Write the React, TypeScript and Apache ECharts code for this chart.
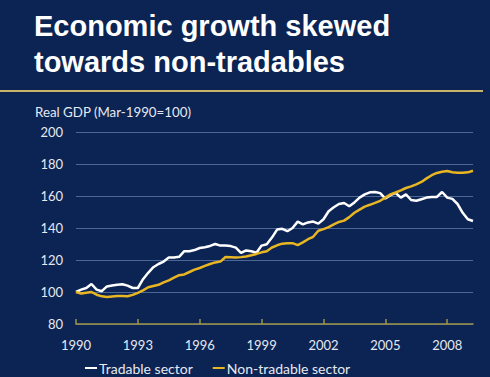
import React, { useEffect, useRef } from "react";
import * as echarts from "echarts";

const titleText = "Economic growth skewed\ntowards non-tradables";
const subtitleText = "Real GDP (Mar-1990=100)";
const seriesNames = ["Tradable sector", "Non-tradable sector"];
const months = ["Mar", "Jun", "Sep", "Dec"];
const years = [1990, 1991, 1992, 1993, 1994, 1995, 1996, 1997, 1998, 1999, 2000, 2001, 2002, 2003, 2004, 2005, 2006, 2007, 2008, 2009];
const categories: string[] = [];
years.forEach((y) => months.forEach((m) => categories.push(m + "-" + y)));
const quarters = categories.slice(0, 78);

const tradable = [
  100, 101.5, 102.5, 105, 101.5, 100.5, 103.5, 104, 104.5, 104.8,
  104, 102.5, 102.5, 108, 112, 115.5, 117.5, 119, 121.5, 121.5,
  122, 125.5, 125.5, 126.2, 127.5, 128, 128.8, 130, 129, 129,
  128.7, 127.7, 124.4, 126, 125.5, 124.5, 129, 129.8, 134, 139,
  139.5, 138, 140, 144, 142.3, 143.5, 144, 142.7, 145.5, 150.5,
  153, 155, 155.6, 153.6, 156, 159, 161, 162.3, 162.5, 161.8,
  158.4, 160.5, 161.9, 159, 161, 157.5, 157, 158, 159, 159.4,
  159.4, 162.5, 159, 158.2, 155, 149.5, 145.5, 144.4,
];
const nonTradable = [
  100, 99, 99.5, 100, 98.3, 97.3, 96.9, 97.2, 97.5, 97.5,
  97.3, 98.2, 99.5, 101, 103, 103.8, 104.5, 106, 107.3, 109,
  110.5, 111, 112.5, 114, 115, 116.3, 117.5, 118.5, 119, 121.9,
  121.7, 121.5, 121.8, 122.2, 123, 123.8, 124.8, 125.5, 127.8, 129.2,
  130.2, 130.5, 130.5, 129.3, 131, 133, 134.5, 138.3, 139.3, 140.5,
  142.3, 143.8, 144.6, 146.8, 149.5, 151.5, 153.4, 154.5, 155.7, 157,
  159, 161, 162.2, 163.5, 165, 166, 167.3, 168.8, 171, 173,
  174.4, 175.2, 175.6, 174.8, 174.6, 174.6, 174.8, 175.8,
];

const BG = "#0c2454";
const GOLD = "#e8b622";
const LABEL = "#e6e9f0";
const FONT = "Lato, 'Open Sans', sans-serif";

export default function App() {
  const ref = useRef<HTMLDivElement>(null);
  useEffect(() => {
    if (!ref.current) return;
    const chart = echarts.init(ref.current, undefined, { renderer: "svg" });
    chart.setOption({
      animation: false,
      backgroundColor: BG,
      title: {
        text: titleText,
        left: 34,
        top: 8,
        padding: 0,
        textStyle: {
          color: "#ffffff",
          fontSize: 29,
          fontWeight: "bold",
          fontFamily: "'Liberation Sans', Arial, sans-serif",
          lineHeight: 36,
        },
      },
      graphic: [
        {
          type: "rect",
          shape: { x: 0, y: 90, width: 483, height: 2 },
          style: { fill: "#c9b46a" },
        },
        {
          type: "text",
          x: 35,
          y: 112,
          style: {
            text: subtitleText,
            fill: LABEL,
            font: "13.3px " + FONT,
            verticalAlign: "middle",
          },
        },
      ],
      legend: {
        left: 85,
        top: 361,
        padding: 0,
        icon: "rect",
        itemWidth: 12,
        itemHeight: 2,
        itemGap: 20,
        data: seriesNames,
        textStyle: { color: LABEL, fontSize: 14, fontFamily: FONT, padding: [0, 0, 0, -3] },
      },
      grid: { left: 76, right: 17, top: 132, bottom: 53, containLabel: false },
      xAxis: {
        type: "category",
        data: quarters,
        boundaryGap: false,
        axisLine: { lineStyle: { color: "#9c9346", width: 1.5 } },
        axisTick: { interval: 11, inside: true, length: 5, lineStyle: { color: "#9c9346", width: 1.5 } },
        axisLabel: {
          interval: 11,
          margin: 14,
          color: LABEL,
          fontSize: 13,
          fontFamily: FONT,
          formatter: (v: string) => v.slice(4),
        },
        splitLine: { show: false },
      },
      yAxis: {
        type: "value",
        min: 80,
        max: 200,
        interval: 20,
        axisLine: { show: false },
        axisTick: { show: false },
        axisLabel: { color: LABEL, fontSize: 13, fontFamily: FONT, margin: 13 },
        splitLine: { lineStyle: { color: "#4d6794", width: 1 } },
      },
      series: [
        {
          name: seriesNames[0],
          type: "line",
          data: tradable,
          showSymbol: false,
          lineStyle: { color: "#ffffff", width: 2.5 },
          itemStyle: { color: "#ffffff" },
        },
        {
          name: seriesNames[1],
          type: "line",
          data: nonTradable,
          showSymbol: false,
          lineStyle: { color: GOLD, width: 2.5 },
          itemStyle: { color: GOLD },
        },
      ],
    });
    return () => chart.dispose();
  }, []);
  return (
    <div
      ref={ref}
      style={{ position: "fixed", left: 0, top: 0, width: 490, height: 377 }}
    />
  );
}
